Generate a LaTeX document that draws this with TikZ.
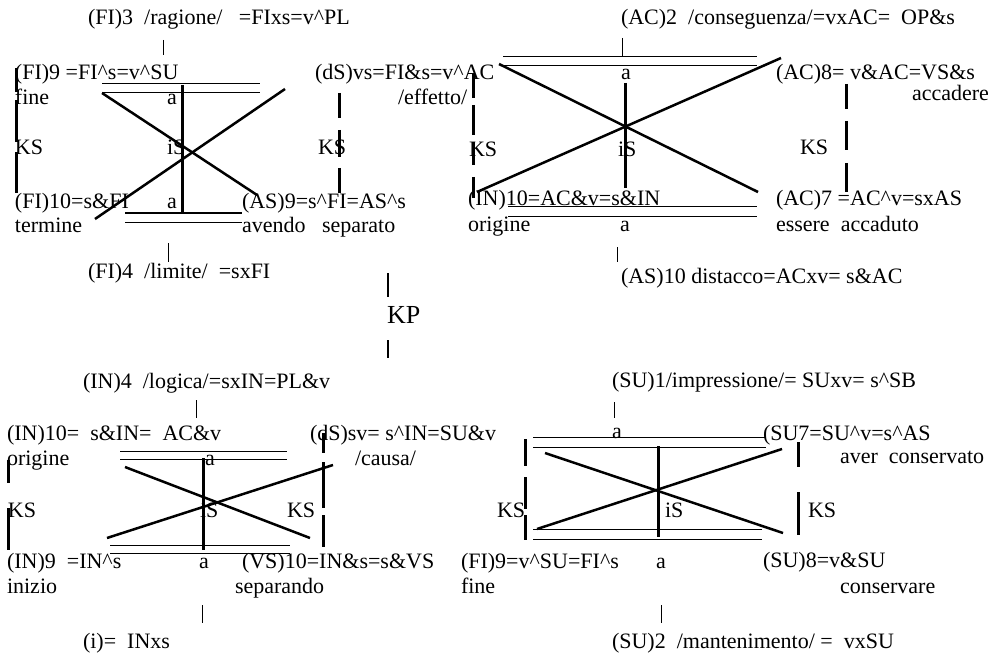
\documentclass[tikz,border=0pt]{standalone}
\usepackage{fontspec}
\setmainfont{Liberation Serif}
\usepackage{xcolor}
\definecolor{cInk}{HTML}{000000}
\usepackage{tikz}
\newcommand{\crt}{\textasciicircum}
\tikzset{
  lbl/.style={anchor=base west,inner sep=0pt,outer sep=0pt,text=cInk,
    font=\fontsize{22}{25}\selectfont},
  lbl-big/.style={lbl,font=\fontsize{26}{28}\selectfont},
  % doppie righe, diagonali, asse centrale, barre KS
  rail/.style={draw=cInk,line width=1pt},
  cross-line/.style={draw=cInk,line width=2.5pt},
  axis-line/.style={draw=cInk,line width=3pt},
  ks-bar/.style={draw=cInk,line width=3pt},
  tick-line/.style={draw=cInk,line width=0.8pt},
  kp-line/.style={draw=cInk,line width=1.6pt},
}

\begin{document}
\begin{tikzpicture}[x=1pt,y=-1pt]
  \useasboundingbox (0,0) rectangle (1002,658);
  % alto a sinistra
  \node[lbl] (tl-title) at (88,25)  {(FI)3~~/ragione/~~~=FIxs=v\crt PL};
  \node[lbl] (tl-fi9)   at (15,80)  {(FI)9 =FI\crt s=v\crt SU};
  \node[lbl] (tl-fine)  at (15,105) {fine};
  \node[lbl] (tl-a1)    at (167,105) {a};
  \node[lbl] (tl-ksl)   at (15,155) {KS};
  \node[lbl] (tl-is)    at (167,155) {iS};
  \node[lbl] (tl-ksr)   at (318,155) {KS};
  \node[lbl] (tl-fi10)  at (15,208) {(FI)10=s\&FI};
  \node[lbl] (tl-a2)    at (167,208) {a};
  \node[lbl] (tl-as9)   at (242,208) {(AS)9=s\crt FI=AS\crt s};
  \node[lbl] (tl-term)  at (15,233) {termine};
  \node[lbl] (tl-sep)   at (242,233) {avendo~~~separato};
  \node[lbl] (tl-lim)   at (88,278) {(FI)4~~/limite/~~=sxFI};
  \node[lbl] (tl-ds)    at (315,80) {(dS)vs=FI\&s=v\crt AC};
  \node[lbl] (tl-eff)   at (398,105) {/effetto/};
  \draw[rail] (102,84) -- (260,84);
  \draw[rail] (102,93) -- (260,93);
  \draw[rail] (125,213) -- (242,213);
  \draw[rail] (125,222) -- (242,222);
  \draw[axis-line] (182,85) -- (182,213);
  \draw[cross-line] (102,93) -- (257,195);
  \draw[cross-line] (95,219) -- (285,89);
  \foreach \ya/\yb in {68/92,100/142,152/193}
    \draw[ks-bar] (16,\ya) -- (16,\yb);
  \foreach \ya/\yb in {93/118,130/157,168/193}
    \draw[ks-bar] (339,\ya) -- (339,\yb);
  \draw[tick-line] (163,40) -- (163,55);
  \draw[tick-line] (168,243) -- (168,262);

  % KP
  \node[lbl-big] (kp) at (387,323) {KP};
  \draw[kp-line] (388,273) -- (388,297);
  \draw[kp-line] (388,340) -- (388,358);

  % alto a destra
  \node[lbl] (tr-title) at (621,25)  {(AC)2~~/conseguenza/=vxAC=~~OP\&s};
  \node[lbl] (tr-a1)    at (621,80)  {a};
  \node[lbl] (tr-ac8)   at (776,80)  {(AC)8=~v\&AC=VS\&s};
  \node[lbl] (tr-acc)   at (912,101) {accadere};
  \node[lbl] (tr-ksl)   at (469,157) {KS};
  \node[lbl] (tr-is)    at (618,157) {iS};
  \node[lbl] (tr-ksr)   at (800,155) {KS};
  \node[lbl] (tr-in10)  at (468,206) {(IN)10=AC\&v=s\&IN};
  \node[lbl] (tr-ac7)   at (776,206) {(AC)7~=AC\crt v=sxAS};
  \node[lbl] (tr-orig)  at (468,232) {origine};
  \node[lbl] (tr-a2)    at (620,232) {a};
  \node[lbl] (tr-ess)   at (776,232) {essere~~accaduto};
  \node[lbl] (tr-dist)  at (621,283) {(AS)10 distacco=ACxv=~s\&AC};
  \draw[rail] (503,57) -- (757,57);
  \draw[rail] (503,66) -- (757,66);
  \draw[rail] (508,207) -- (757,207);
  \draw[rail] (508,216) -- (757,216);
  \draw[axis-line] (625,83) -- (625,188);
  \draw[cross-line] (499,64) -- (758,192);
  \draw[cross-line] (477,192) -- (781,58);
  \foreach \ya/\yb in {74/98,105/135,142/165,177/198}
    \draw[ks-bar] (473,\ya) -- (473,\yb);
  \foreach \ya/\yb in {84/109,121/150,163/192}
    \draw[ks-bar] (846,\ya) -- (846,\yb);
  \draw[tick-line] (622,38) -- (622,56);
  \draw[tick-line] (617,247) -- (617,262);

  % basso a sinistra
  \node[lbl] (bl-title) at (83,388)  {(IN)4~~/logica/=sxIN=PL\&v};
  \node[lbl] (bl-in10)  at (7,440)   {(IN)10=~~s\&IN=~~AC\&v};
  \node[lbl] (bl-ds)    at (310,440) {(dS)sv=~s\crt IN=SU\&v};
  \node[lbl] (bl-orig)  at (7,465)   {origine};
  \node[lbl] (bl-a1)    at (205,465) {a};
  \node[lbl] (bl-causa) at (355,465) {/causa/};
  \node[lbl] (bl-ksl)   at (8,517)   {KS};
  \node[lbl] (bl-is)    at (200,517) {iS};
  \node[lbl] (bl-ksr)   at (287,517) {KS};
  \node[lbl] (bl-in9)   at (7,568)   {(IN)9~~=IN\crt s};
  \node[lbl] (bl-a2)    at (199,568) {a};
  \node[lbl] (bl-vs10)  at (242,568) {(VS)10=IN\&s=s\&VS};
  \node[lbl] (bl-iniz)  at (7,593)   {inizio};
  \node[lbl] (bl-sep)   at (235,593) {separando};
  \node[lbl] (bl-i)     at (83,648)  {(i)=~~INxs};
  \draw[rail] (120,451) -- (287,451);
  \draw[rail] (120,459) -- (287,459);
  \draw[rail] (110,545) -- (290,545);
  \draw[rail] (110,553) -- (290,553);
  \draw[axis-line] (203,458) -- (203,550);
  \draw[cross-line] (125,467) -- (310,538);
  \draw[cross-line] (107,538) -- (333,465);
  \foreach \ya/\yb in {460/483,508/550}
    \draw[ks-bar] (8,\ya) -- (8,\yb);
  \foreach \ya/\yb in {433/453,462/508,515/547}
    \draw[ks-bar] (323,\ya) -- (323,\yb);
  \draw[tick-line] (196,400) -- (196,418);
  \draw[tick-line] (202,605) -- (202,623);

  % basso a destra
  \node[lbl] (br-title) at (612,387) {(SU)1/impressione/=~SUxv=~s\crt SB};
  \node[lbl] (br-a1)    at (612,438) {a};
  \node[lbl] (br-su7)   at (763,440) {(SU7=SU\crt v=s\crt AS};
  \node[lbl] (br-aver)  at (840,463) {aver~~conservato};
  \node[lbl] (br-ksl)   at (497,517) {KS};
  \node[lbl] (br-is)    at (665,517) {iS};
  \node[lbl] (br-ksr)   at (808,517) {KS};
  \node[lbl] (br-fi9)   at (461,568) {(FI)9=v\crt SU=FI\crt s};
  \node[lbl] (br-a2)    at (656,568) {a};
  \node[lbl] (br-su8)   at (763,567) {(SU)8=v\&SU};
  \node[lbl] (br-fine)  at (461,593) {fine};
  \node[lbl] (br-cons)  at (840,593) {conservare};
  \node[lbl] (br-mant)  at (612,648) {(SU)2~~/mantenimento/~=~~vxSU};
  \draw[rail] (533,437) -- (765,437);
  \draw[rail] (533,447) -- (766,447);
  \draw[rail] (533,529) -- (762,529);
  \draw[rail] (533,539) -- (762,539);
  \draw[axis-line] (658,446) -- (658,537);
  \draw[cross-line] (545,453) -- (783,533);
  \draw[cross-line] (537,529) -- (782,449);
  \foreach \ya/\yb in {439/466,477/509,515/540}
    \draw[ks-bar] (525,\ya) -- (525,\yb);
  \foreach \ya/\yb in {442/467,492/535}
    \draw[ks-bar] (798,\ya) -- (798,\yb);
  \draw[tick-line] (614,402) -- (614,418);
  \draw[tick-line] (661,605) -- (661,623);
\end{tikzpicture}
\end{document}
